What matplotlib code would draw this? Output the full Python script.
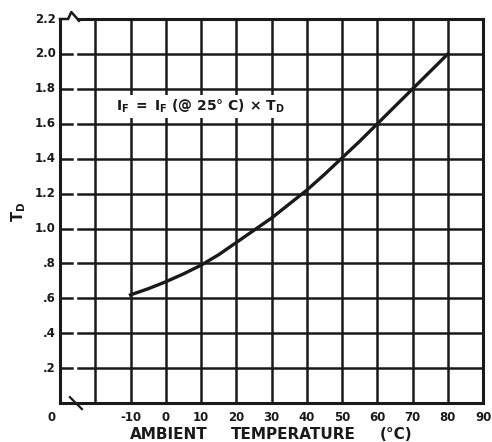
import matplotlib
matplotlib.use("Agg")
import matplotlib.pyplot as plt

# values
temps = [-10, -5, 0, 5, 10, 15, 20, 25, 30, 35, 40, 45, 50, 55, 60, 65, 70, 75, 80]
td = [0.62, 0.655, 0.695, 0.74, 0.79, 0.85, 0.92, 0.99, 1.06, 1.14, 1.22,
      1.31, 1.405, 1.50, 1.60, 1.70, 1.80, 1.90, 2.00]

x_grid = [-20, -10, 0, 10, 20, 30, 40, 50, 60, 70, 80]
x_labels = [-10, 0, 10, 20, 30, 40, 50, 60, 70, 80, 90]
y_ticks = [0.2, 0.4, 0.6, 0.8, 1.0, 1.2, 1.4, 1.6, 1.8, 2.0, 2.2]
y_labels = [".2", ".4", ".6", ".8", "1.0", "1.2", "1.4", "1.6", "1.8", "2.0", "2.2"]

ink = "#1a1a1a"

fig = plt.figure(figsize=(4.92, 4.42), dpi=100)
ax = fig.add_axes([0.122, 0.088, 0.860, 0.869])
ax.set_xlim(-30, 90)
ax.set_ylim(0, 2.2)

# grid, horizontal lines broken near the axis break
for x in x_grid:
    ax.axvline(x, color=ink, lw=1.8, zorder=1)
for y in y_ticks[:-1]:
    ax.plot([-30, -26.6], [y, y], color=ink, lw=1.8, zorder=1)
    ax.plot([-25.0, 90], [y, y], color=ink, lw=1.8, zorder=1)

# curve
ax.plot(temps, td, color=ink, lw=2.4, zorder=3)

for s in ax.spines.values():
    s.set_linewidth(2.2)
    s.set_color(ink)
ax.spines["top"].set_visible(False)

# top spine with break zigzag
ax.plot([-30, -27.7, -26.8, -24.6], [2.2, 2.2, 2.24, 2.19], color=ink,
        lw=1.8, clip_on=False, zorder=4)
ax.plot([-24.9, 90], [2.2, 2.2], color=ink, lw=2.2, clip_on=False, zorder=4)
# bottom break slash
ax.plot([-27.2, -23.8], [0.034, -0.034], color=ink, lw=1.6,
        clip_on=False, zorder=4)

ax.set_xticks([])
ax.set_yticks([])

# tick labels
for x in x_labels:
    ax.text(x, -0.045, str(x), ha="center", va="top", fontsize=8.5,
            fontweight="bold", color=ink)
for y, lab in zip(y_ticks, y_labels):
    ax.text(-31.2, y, lab, ha="right", va="center", fontsize=8.5,
            fontweight="bold", color=ink)
ax.text(-32.5, -0.045, "0", ha="center", va="top", fontsize=8.5,
        fontweight="bold", color=ink)

# annotation
ax.text(-14, 1.70, r"$\mathbf{I_F\ =\ I_F}$ (@ 25° C) × $\mathbf{T_D}$",
        fontsize=10, fontweight="bold", color=ink, va="center", zorder=4,
        bbox=dict(facecolor="white", edgecolor="none", pad=2))

# axis labels
fig.text(0.037, 0.52, r"$\mathbf{T_D}$", rotation=90, ha="center", va="center",
         fontsize=10.5, color=ink)
for word, xc in zip(["AMBIENT", "TEMPERATURE", "(°C)"], [169, 293, 396]):
    fig.text(xc / 492, 0.018, word, ha="center", va="center", fontsize=11,
             fontweight="bold", color=ink)

plt.savefig("out.png", dpi=100)
